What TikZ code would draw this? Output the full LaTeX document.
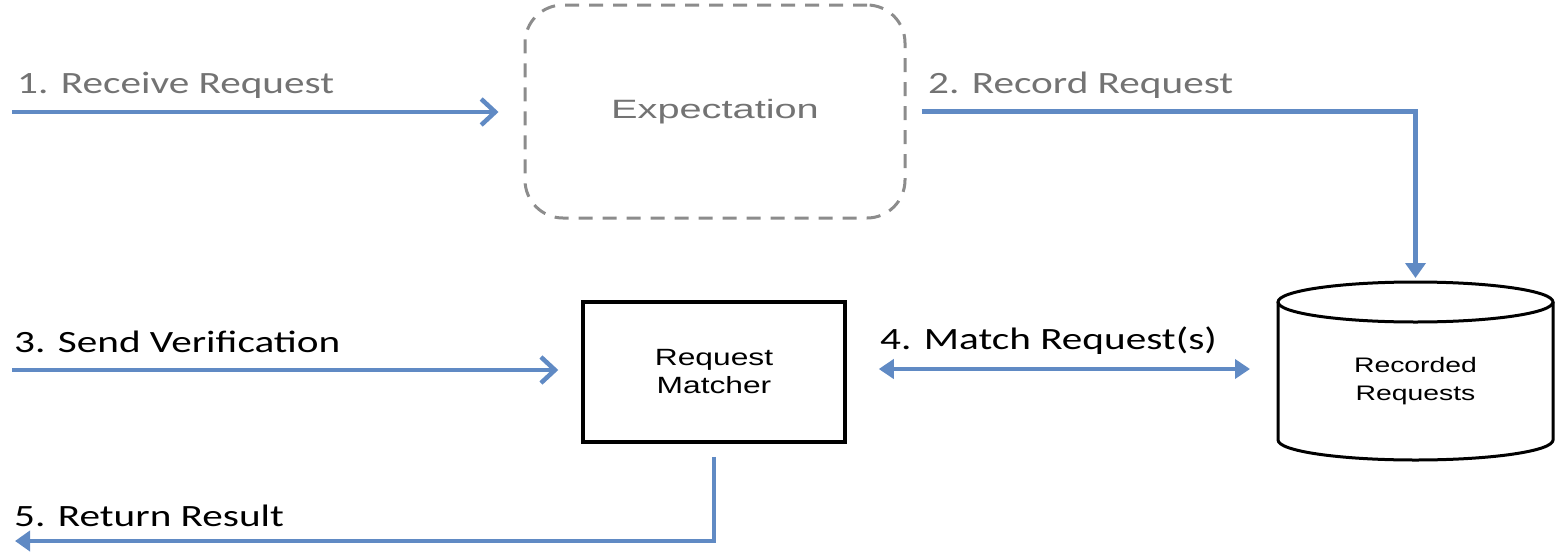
\documentclass[tikz,border=0pt]{standalone}
\usepackage{fontspec}
\usetikzlibrary{arrows.meta}
\newfontfamily\lblfont[FakeStretch=1.33]{Carlito}
\newfontfamily\boxfont[FakeStretch=1.35]{Liberation Sans}
\newfontfamily\expfont[FakeStretch=1.5]{Liberation Sans}
\definecolor{flow}{RGB}{96,138,196}
\definecolor{grayt}{RGB}{115,115,115}
\definecolor{dashg}{RGB}{140,140,140}
\begin{document}
\begin{tikzpicture}[x=1pt,y=-1pt,
  lbl/.style={anchor=base west, inner sep=0pt, font=\lblfont\fontsize{31}{37}\selectfont},
  flowline/.style={draw=flow, line width=4.5pt},
  barb/.style={-{Straight Barb[length=14pt,width=26pt,line width=4.5pt]}},
  tri/.style={-{Triangle[length=15pt,width=20pt]}},
  bitri/.style={{Triangle[length=15pt,width=19pt]}-{Triangle[length=15pt,width=19pt]}},
  expbox/.style={draw=dashg, line width=3pt, dash pattern=on 14pt off 10pt, rounded corners=38pt,
    minimum width=380pt, minimum height=213pt, text=grayt,
    font=\expfont\fontsize{26.5}{32}\selectfont},
  matchbox/.style={draw=black, line width=3.5pt, minimum width=262pt, minimum height=140pt,
    align=center, font=\boxfont\fontsize{23.5}{28}\selectfont},
  cyltext/.style={align=center, inner sep=0pt, font=\boxfont\fontsize{21}{28}\selectfont}
]
\useasboundingbox (0,0) rectangle (1555,554);

% nodes
\node[expbox] (exp) at (715,111.5) {Expectation};
\node[matchbox] (match) at (714,372) {Request\\Matcher};

% cylinder
\draw[line width=3pt, fill=white] (1278,302) -- (1278,440) arc[start angle=180, end angle=0, x radius=137.5, y radius=20] -- (1553,302);
\draw[line width=3pt] (1415.5,302) ellipse[x radius=137.5, y radius=20];
\node[cyltext] (rec) at (1415.5,381) {Recorded\\Requests};
\coordinate (cyltop) at (1415.5,282);
\coordinate (cylleft) at (1278,369);

% free ends
\coordinate (in1) at (12,112);
\coordinate (in3) at (12,370);
\coordinate (out5) at (15,541);
\coordinate (bend5) at (714,541);

% labels
\node[lbl, text=grayt] (l1) at (17,93) {1. Receive Request};
\node[lbl, text=grayt] (l2) at (928,93) {2. Record Request};
\node[lbl] (l3) at (14,352) {3. Send Verification};
\node[lbl] (l4) at (880,349) {4. Match Request(s)};
\node[lbl] (l5) at (14,526) {5. Return Result};

% connectors
\draw[flowline, barb, shorten >=25pt] (in1) -- (in1 -| exp.west);
\draw[flowline, tri, shorten <=15pt, shorten >=4pt] (exp.east) -| (cyltop);
\draw[flowline, barb, shorten >=23pt] (in3) -- (in3 -| match.west);
\draw[flowline, bitri, shorten <=32pt, shorten >=28pt] (match.east |- cylleft) -- (cylleft);
\draw[flowline, tri, shorten <=13pt] (match.south) -- (bend5) -- (out5);
\end{tikzpicture}
\end{document}
